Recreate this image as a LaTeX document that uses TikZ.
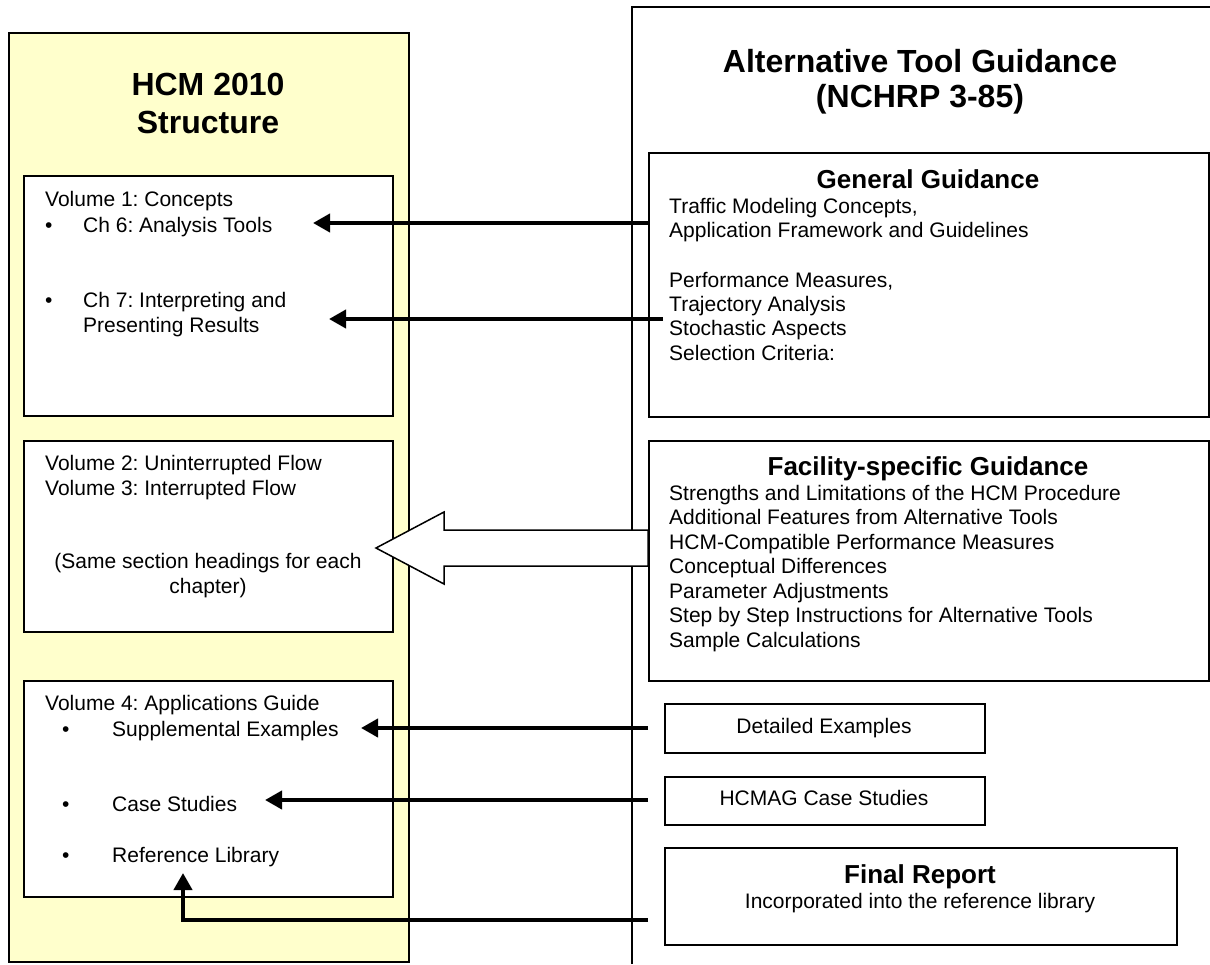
\documentclass[tikz,border=0pt]{standalone}
\usepackage{fontspec}
\setmainfont{Liberation Sans}
\frenchspacing
\usetikzlibrary{arrows.meta,positioning,calc}
\definecolor{paleyel}{HTML}{FFFFCC}

\begin{document}
\begin{tikzpicture}[x=1pt,y=-1pt,
    box/.style={draw,line width=2pt,inner sep=0pt,anchor=north west},
    txt/.style={font=\fontsize{21}{24}\selectfont,anchor=base west,inner sep=0pt},
    ctxt/.style={font=\fontsize{21}{24}\selectfont,anchor=base,inner sep=0pt},
    head/.style={font=\bfseries\fontsize{26}{30}\selectfont,anchor=base,inner sep=0pt},
    ttl/.style={font=\bfseries\fontsize{32}{38}\selectfont,anchor=base,inner sep=0pt},
    arr/.style={line width=4pt,-{Triangle[length=17pt,width=18pt]}},
    hollow/.style={draw,line width=1.5pt,fill=white,line join=miter}]
    \useasboundingbox (0,0) rectangle (1210,964);
    % left panel
    \node[box,fill=paleyel,minimum width=400pt,minimum height=929pt] (hcm) at (8,32){};
    \node[ttl] (hcmt1) at (208,95){HCM 2010};
    \node[ttl] (hcmt2) at (208,133){Structure};
    \node[box,fill=white,minimum width=369pt,minimum height=240pt] (vol1) at (23,175){};
    \node[box,fill=white,minimum width=369pt,minimum height=191pt] (vol23) at (23,440){};
    \node[box,fill=white,minimum width=369pt,minimum height=216pt] (vol4) at (23,680){};
    \node[txt] (v1a) at (45,206){Volume 1: Concepts};
    \node[txt] (b1) at (45,232){•};
    \node[txt] (ch6) at (83,232){Ch 6: Analysis Tools};
    \node[txt] (b2) at (45,307){•};
    \node[txt] (ch7) at (83,307){Ch 7: Interpreting and};
    \node[txt] (ch7b) at (83,332){Presenting Results};
    \node[txt] (v2a) at (45,470){Volume 2: Uninterrupted Flow};
    \node[txt] (v3a) at (45,495){Volume 3: Interrupted Flow};
    \node[ctxt] (same1) at (208,568){(Same section headings for each};
    \node[ctxt] (same2) at (208,593){chapter)};
    \node[txt] (v4a) at (45,710){Volume 4: Applications Guide};
    \node[txt] (b3) at (62,736){•};
    \node[txt] (supp) at (112,736){Supplemental Examples};
    \node[txt] (b4) at (62,811){•};
    \node[txt] (cases) at (112,811){Case Studies};
    \node[txt] (b5) at (62,862){•};
    \node[txt] (rlib) at (112,862){Reference Library};
    % right panel
    \draw[line width=2pt] (632,964) -- (632,7) -- (1210,7);
    \node[ttl] (alt1) at (920,72){Alternative Tool Guidance};
    \node[ttl] (alt2) at (920,107){(NCHRP 3-85)};
    \node[box,minimum width=560pt,minimum height=264pt] (gen) at (648,152){};
    \node[head] (genh) at (928,188){General Guidance};
    \node[txt] (g1) at (669,213){Traffic Modeling Concepts,};
    \node[txt] (g2) at (669,237){Application Framework and Guidelines};
    \node[txt] (g3) at (669,287){Performance Measures,};
    \node[txt] (g4) at (669,311){Trajectory Analysis};
    \node[txt] (g5) at (669,335){Stochastic Aspects};
    \node[txt] (g6) at (669,360){Selection Criteria:};
    \node[box,minimum width=560pt,minimum height=240pt] (fac) at (648,440){};
    \node[head] (fach) at (928,475){Facility-specific Guidance};
    \node[txt] (f1) at (669,500){Strengths and Limitations of the HCM Procedure};
    \node[txt] (f2) at (669,524.5){Additional Features from Alternative Tools};
    \node[txt] (f3) at (669,549){HCM-Compatible Performance Measures};
    \node[txt] (f4) at (669,573.5){Conceptual Differences};
    \node[txt] (f5) at (669,598){Parameter Adjustments};
    \node[txt] (f6) at (669,622.5){Step by Step Instructions for Alternative Tools};
    \node[txt] (f7) at (669,647){Sample Calculations};
    \node[box,minimum width=320pt,minimum height=49pt] (det) at (664,703){};
    \node[ctxt] (dett) at (824,733){Detailed Examples};
    \node[box,minimum width=320pt,minimum height=48pt] (hcmag) at (664,776){};
    \node[ctxt] (hcmagt) at (824,805){HCMAG Case Studies};
    \node[box,minimum width=512pt,minimum height=97pt] (fin) at (664,847){};
    \node[head] (finh) at (920,883){Final Report};
    \node[ctxt] (fint) at (920,908){Incorporated into the reference library};
    % arrows
    \coordinate (tip1) at (313,223);
    \coordinate (tip2) at (329,319);
    \coordinate (tip3) at (361,728);
    \coordinate (tip4) at (265,800);
    \coordinate (bend5) at (183,920);
    \coordinate (tip5) at (183,873);
    \draw[arr] (gen.west |- tip1) -- (tip1);
    \draw[arr] (gen.west |- tip2) ++(15,0) -- (tip2);
    \draw[arr] (gen.west |- tip3) -- (tip3);
    \draw[arr] (gen.west |- tip4) -- (tip4);
    \draw[arr] (gen.west |- bend5) -- (bend5) -- (tip5);
    \coordinate (htip) at (376,548);
    \draw[hollow] (htip) -- ++(68,-36) -- ++(0,18) -- (fac.west |- 0,530)
      -- (fac.west |- 0,566) -- (444,566) -- ++(0,18) -- cycle;
\end{tikzpicture}
\end{document}
